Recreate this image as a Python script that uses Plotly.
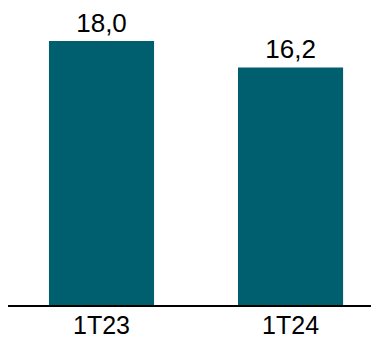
import plotly.graph_objects as go

# 数据
categorias = ['1T23', '1T24']
valores = [18.0, 16.2]
etiquetas = ['18,0', '16,2']

cor_barra = '#005F6E'

fig = go.Figure()

fig.add_trace(go.Bar(
    x=categorias,
    y=valores,
    text=etiquetas,
    textposition='outside',
    constraintext='none',
    textfont=dict(family='Liberation Sans, Arial', size=26, color='black'),
    marker=dict(color=cor_barra, line=dict(width=0)),
    width=0.556,
    cliponaxis=False,
))

# 页面 body 默认有 8px 边距，所以尺寸减去 8
fig.update_layout(
    width=371,
    height=331,
    margin=dict(l=0, r=0, t=0, b=34, autoexpand=False),
    paper_bgcolor='white',
    plot_bgcolor='white',
    showlegend=False,
    font=dict(family='Liberation Sans, Arial', size=26, color='black'),
    xaxis=dict(
        range=[-0.4947, 1.468],
        showline=True,
        linecolor='black',
        linewidth=1.5,
        ticks='',
        showgrid=False,
        automargin=False,
        ticklabelstandoff=-3,
        tickfont=dict(size=25),
    ),
    yaxis=dict(
        range=[0, 20.25],
        visible=False,
        showgrid=False,
        zeroline=False,
        automargin=False,
    ),
)

fig.write_html("out.html")
